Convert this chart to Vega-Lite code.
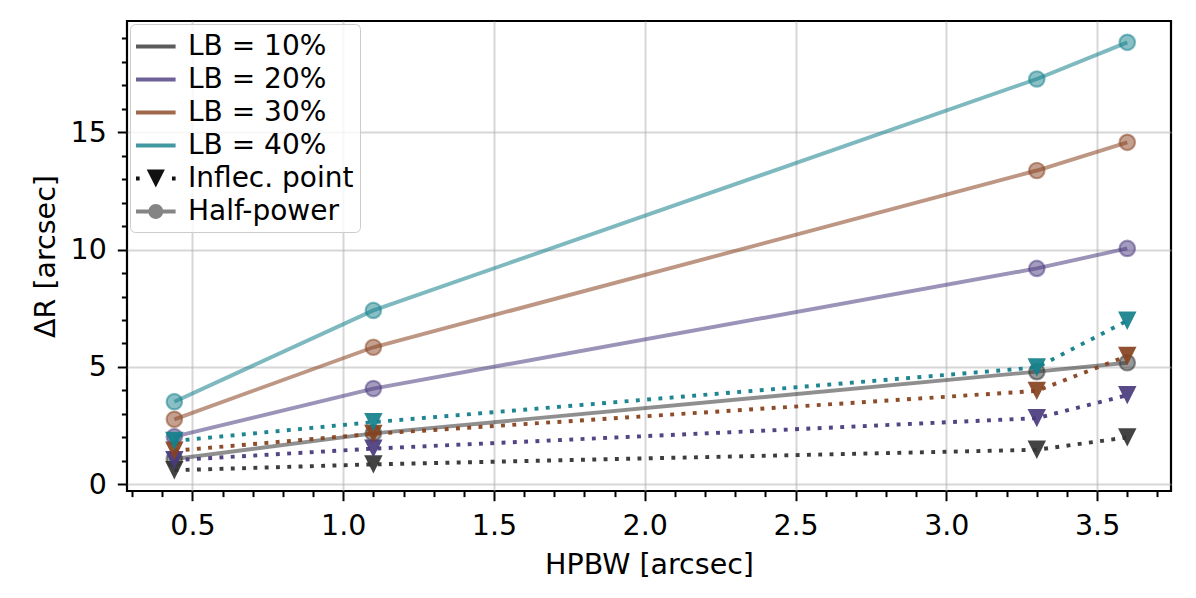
{
  "$schema": "https://vega.github.io/schema/vega-lite/v6.json",
  "width": 1044,
  "height": 470,
  "autosize": {"type": "none"},
  "padding": {"left": 127, "top": 21, "right": 25, "bottom": 107},
  "background": "white",
  "config": {
    "font": "DejaVu Sans",
    "view": {"stroke": "#000000", "strokeWidth": 2.2},
    "axis": {
      "labelFont": "DejaVu Sans",
      "labelFontSize": 28.5,
      "labelColor": "#000000",
      "titleFont": "DejaVu Sans",
      "titleFontSize": 28.5,
      "titleFontWeight": "normal",
      "titleColor": "#000000",
      "tickColor": "#000000",
      "tickWidth": 2,
      "gridColor": "#b0b0b0",
      "gridWidth": 2,
      "domain": false,
      "labelOverlap": false,
      "labelFlush": false
    },
    "legend": {
      "labelFont": "DejaVu Sans",
      "labelFontSize": 28,
      "labelColor": "#000000",
      "labelLimit": 0
    }
  },
  "data": {
    "values": [
      {"kind": "Half-power", "lb": "LB = 10%", "hpbw": 0.44, "dr": 1.08},
      {"kind": "Half-power", "lb": "LB = 10%", "hpbw": 1.1, "dr": 2.17},
      {"kind": "Half-power", "lb": "LB = 10%", "hpbw": 3.3, "dr": 4.8},
      {"kind": "Half-power", "lb": "LB = 10%", "hpbw": 3.6, "dr": 5.18},
      {"kind": "Half-power", "lb": "LB = 20%", "hpbw": 0.44, "dr": 2.03},
      {"kind": "Half-power", "lb": "LB = 20%", "hpbw": 1.1, "dr": 4.08},
      {"kind": "Half-power", "lb": "LB = 20%", "hpbw": 3.3, "dr": 9.2},
      {"kind": "Half-power", "lb": "LB = 20%", "hpbw": 3.6, "dr": 10.05},
      {"kind": "Half-power", "lb": "LB = 30%", "hpbw": 0.44, "dr": 2.77},
      {"kind": "Half-power", "lb": "LB = 30%", "hpbw": 1.1, "dr": 5.84},
      {"kind": "Half-power", "lb": "LB = 30%", "hpbw": 3.3, "dr": 13.37},
      {"kind": "Half-power", "lb": "LB = 30%", "hpbw": 3.6, "dr": 14.57},
      {"kind": "Half-power", "lb": "LB = 40%", "hpbw": 0.44, "dr": 3.52},
      {"kind": "Half-power", "lb": "LB = 40%", "hpbw": 1.1, "dr": 7.41},
      {"kind": "Half-power", "lb": "LB = 40%", "hpbw": 3.3, "dr": 17.27},
      {"kind": "Half-power", "lb": "LB = 40%", "hpbw": 3.6, "dr": 18.83},
      {"kind": "Inflec. point", "lb": "LB = 10%", "hpbw": 0.44, "dr": 0.6},
      {"kind": "Inflec. point", "lb": "LB = 10%", "hpbw": 1.1, "dr": 0.85},
      {"kind": "Inflec. point", "lb": "LB = 10%", "hpbw": 3.3, "dr": 1.47},
      {"kind": "Inflec. point", "lb": "LB = 10%", "hpbw": 3.6, "dr": 2.0},
      {"kind": "Inflec. point", "lb": "LB = 20%", "hpbw": 0.44, "dr": 1.03},
      {"kind": "Inflec. point", "lb": "LB = 20%", "hpbw": 1.1, "dr": 1.52},
      {"kind": "Inflec. point", "lb": "LB = 20%", "hpbw": 3.3, "dr": 2.82},
      {"kind": "Inflec. point", "lb": "LB = 20%", "hpbw": 3.6, "dr": 3.8},
      {"kind": "Inflec. point", "lb": "LB = 30%", "hpbw": 0.44, "dr": 1.43},
      {"kind": "Inflec. point", "lb": "LB = 30%", "hpbw": 1.1, "dr": 2.15},
      {"kind": "Inflec. point", "lb": "LB = 30%", "hpbw": 3.3, "dr": 3.98},
      {"kind": "Inflec. point", "lb": "LB = 30%", "hpbw": 3.6, "dr": 5.47},
      {"kind": "Inflec. point", "lb": "LB = 40%", "hpbw": 0.44, "dr": 1.85},
      {"kind": "Inflec. point", "lb": "LB = 40%", "hpbw": 1.1, "dr": 2.65},
      {"kind": "Inflec. point", "lb": "LB = 40%", "hpbw": 3.3, "dr": 4.98},
      {"kind": "Inflec. point", "lb": "LB = 40%", "hpbw": 3.6, "dr": 6.97}
    ]
  },
  "encoding": {
    "x": {
      "field": "hpbw",
      "type": "quantitative",
      "scale": {"domain": [0.283, 3.745], "nice": false, "zero": false},
      "axis": {
        "title": "HPBW [arcsec]",
        "values": [0.3, 0.4, 0.5, 0.6, 0.7, 0.8, 0.9, 1.0, 1.1, 1.2, 1.3, 1.4, 1.5, 1.6, 1.7, 1.8, 1.9, 2.0, 2.1, 2.2, 2.3, 2.4, 2.5, 2.6, 2.7, 2.8, 2.9, 3.0, 3.1, 3.2, 3.3, 3.4, 3.5, 3.6, 3.7],
        "labelExpr": "abs(datum.value*2 - round(datum.value*2)) < 0.001 ? format(datum.value, '.1f') : ''",
        "tickSize": {"condition": {"test": "abs(datum.value*2 - round(datum.value*2)) < 0.001", "value": 9.7}, "value": 5.6},
        "gridOpacity": {"condition": {"test": "abs(datum.value*2 - round(datum.value*2)) < 0.001", "value": 0.5}, "value": 0},
        "labelPadding": 11,
        "titlePadding": 10
      }
    },
    "y": {
      "field": "dr",
      "type": "quantitative",
      "scale": {"domain": [-0.285, 19.74], "nice": false, "zero": false},
      "axis": {
        "title": "ΔR [arcsec]",
        "values": [0, 1, 2, 3, 4, 5, 6, 7, 8, 9, 10, 11, 12, 13, 14, 15, 16, 17, 18, 19],
        "labelExpr": "datum.value % 5 === 0 ? format(datum.value, 'd') : ''",
        "tickSize": {"condition": {"test": "datum.value % 5 === 0", "value": 9.7}, "value": 5.6},
        "gridOpacity": {"condition": {"test": "datum.value % 5 === 0", "value": 0.5}, "value": 0},
        "labelPadding": 11,
        "titlePadding": 10
      }
    },
    "color": {
      "field": "lb",
      "type": "nominal",
      "scale": {
        "domain": ["LB = 10%", "LB = 20%", "LB = 30%", "LB = 40%", "Inflec. point", "Half-power"],
        "range": ["#333333", "#4a3a7d", "#87421f", "#13808b", "#111111", "#333333"]
      },
      "legend": {
        "title": null,
        "orient": "top-left",
        "offset": 3,
        "padding": 6,
        "symbolSize": 1089,
        "labelOffset": 19,
        "rowPadding": 2,
        "labelLimit": 0,
        "fillColor": "rgba(255,255,255,0.8)",
        "strokeColor": "#cccccc",
        "cornerRadius": 5,
        "zindex": 1,
        "encode": {
          "symbols": {
            "update": {
              "shape": {"signal": "datum.value === 'Inflec. point' ? 'M-1,-0.115H-0.78V0.115H-1Z M1.18,-0.115H1.4V0.115H1.18Z M-0.35,-0.55H0.75L0.2,0.55Z' : datum.value === 'Half-power' ? 'M-1,-0.115H1.4V0.115H-1Z M0.65,0A0.45,0.45 0 1,1 -0.25,0A0.45,0.45 0 1,1 0.65,0Z' : 'M-1,-0.115H1.4V0.115H-1Z'"},
              "fill": {"scale": "color", "field": "value"},
              "stroke": {"value": "transparent"},
              "strokeWidth": {"value": 0},
              "opacity": {"signal": "datum.value === 'Inflec. point' ? 1 : datum.value === 'Half-power' ? 0.6 : 0.8"}
            }
          }
        }
      }
    }
  },
  "layer": [
    {
      "transform": [{"filter": "datum.kind === 'Half-power'"}],
      "mark": {"type": "line", "strokeWidth": 3.9, "opacity": 0.55}
    },
    {
      "transform": [{"filter": "datum.kind === 'Half-power'"}],
      "mark": {"type": "point", "shape": "circle", "filled": true, "size": 240, "fillOpacity": 0.5, "strokeOpacity": 0.5, "strokeWidth": 2.2},
      "encoding": {
        "stroke": {
          "field": "lb",
          "type": "nominal",
          "scale": {
            "domain": ["LB = 10%", "LB = 20%", "LB = 30%", "LB = 40%", "Inflec. point", "Half-power"],
            "range": ["#333333", "#4a3a7d", "#87421f", "#13808b", "#111111", "#333333"]
          },
          "legend": null
        }
      }
    },
    {
      "transform": [{"filter": "datum.kind === 'Inflec. point'"}],
      "mark": {"type": "line", "strokeWidth": 3.9, "strokeDash": [3.9, 7.4], "opacity": 0.95}
    },
    {
      "transform": [{"filter": "datum.kind === 'Inflec. point'"}],
      "mark": {"type": "point", "shape": "M-1,-1L1,-1L0,1Z", "filled": true, "size": 340, "opacity": 0.92}
    }
  ]
}
